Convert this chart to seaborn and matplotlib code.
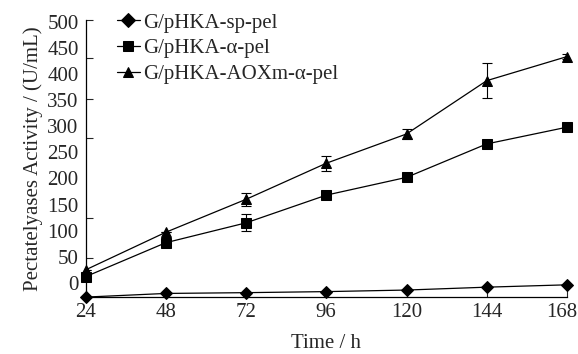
import numpy as np
import pandas as pd
import matplotlib
matplotlib.use("Agg")
import matplotlib.pyplot as plt
import matplotlib.transforms as mtransforms
import seaborn as sns

# ---- data (in units of the printed y labels) ----
time_h = [24, 48, 72, 96, 120, 144, 168]
sp_pel = [-27, -20, -18.5, -16.5, -13.5, -8, -3.5]
alpha_pel = [12, 77, 115, 168, 202, 266, 298]
aoxm_alpha_pel = [25, 97, 160, 229, 285, 387, 433]
alpha_err = [0, 0, 16, 0, 0, 0, 0]
aoxm_err = [0, 0, 13, 14, 9, 33, 5]
series_names = ["G/pHKA-sp-pel", "G/pHKA-α-pel", "G/pHKA-AOXm-α-pel"]
ytick_values = [0, 50, 100, 150, 200, 250, 300, 350, 400, 450, 500]
xtick_values = [24, 48, 72, 96, 120, 144, 168]

df = pd.DataFrame({
    "Time": time_h * 3,
    "Activity": sp_pel + alpha_pel + aoxm_alpha_pel,
    "Strain": [series_names[0]] * 7 + [series_names[1]] * 7 + [series_names[2]] * 7,
})

sns.set_style("ticks")
plt.rcParams["font.family"] = ["Liberation Serif", "DejaVu Serif"]

FS = 15
fig = plt.figure(figsize=(5.78, 3.54), dpi=100)
ax = fig.add_axes([85.5 / 578, 1 - 297 / 354, (567 - 85.5) / 578, (297 - 20) / 354])

markers = {series_names[0]: "D", series_names[1]: "s", series_names[2]: "^"}
sizes_map = {series_names[0]: 6, series_names[1]: 6.5, series_names[2]: 7.5}
sns.lineplot(data=df, x="Time", y="Activity", hue="Strain", style="Strain",
             markers=markers, dashes=False, palette=["black"] * 3,
             linewidth=0.9, markersize=7, markeredgecolor="black",
             ax=ax, clip_on=False, errorbar=None)
for line, name in zip(ax.lines, series_names):
    line.set_markersize(sizes_map[name])

ax.errorbar(time_h, alpha_pel, yerr=alpha_err, fmt="none", ecolor="black",
            elinewidth=0.8, capsize=3.5, capthick=0.8)
ax.errorbar(time_h, aoxm_alpha_pel, yerr=aoxm_err, fmt="none", ecolor="black",
            elinewidth=0.8, capsize=3.5, capthick=0.8)

ax.set_xlim(24, 168)
ax.set_ylim(-26.8, 503)
ax.set_xticks(xtick_values)
ax.set_xticklabels([str(v) for v in xtick_values], fontsize=FS)
ax.set_yticks(ytick_values)
ax.set_yticklabels([str(v) for v in ytick_values], fontsize=FS)
ax.tick_params(axis="y", which="major", length=0, pad=5)
ax.set_yticks([503, 430, 352, 277, 200, 124, 47], minor=True)
ax.tick_params(axis="y", which="minor", direction="in", length=5, width=0.8)
ax.tick_params(axis="x", which="major", direction="in", length=5, width=0.8, pad=4)

# nudge the last x label so it stays inside the canvas
last = ax.get_xticklabels()[-1]
last.set_transform(last.get_transform() +
                   mtransforms.ScaledTranslation(-5 / 100, 0, fig.dpi_scale_trans))

for s in ["top", "right"]:
    ax.spines[s].set_visible(False)
for s in ["left", "bottom"]:
    ax.spines[s].set_linewidth(0.9)
    ax.spines[s].set_color("black")

ax.set_xlabel("Time / h", fontsize=FS, labelpad=9)
ax.set_ylabel("Pectatelyases Activity / (U/mL)", fontsize=FS, labelpad=3)

handles, labels = ax.get_legend_handles_labels()
leg = ax.legend(handles, labels, loc="upper left", bbox_to_anchor=(0.065, 1.025),
                frameon=False, fontsize=FS, handlelength=1.1, handletextpad=0.15,
                labelspacing=0.3, borderpad=0, borderaxespad=0)

fig.savefig("out.png", dpi=100)
